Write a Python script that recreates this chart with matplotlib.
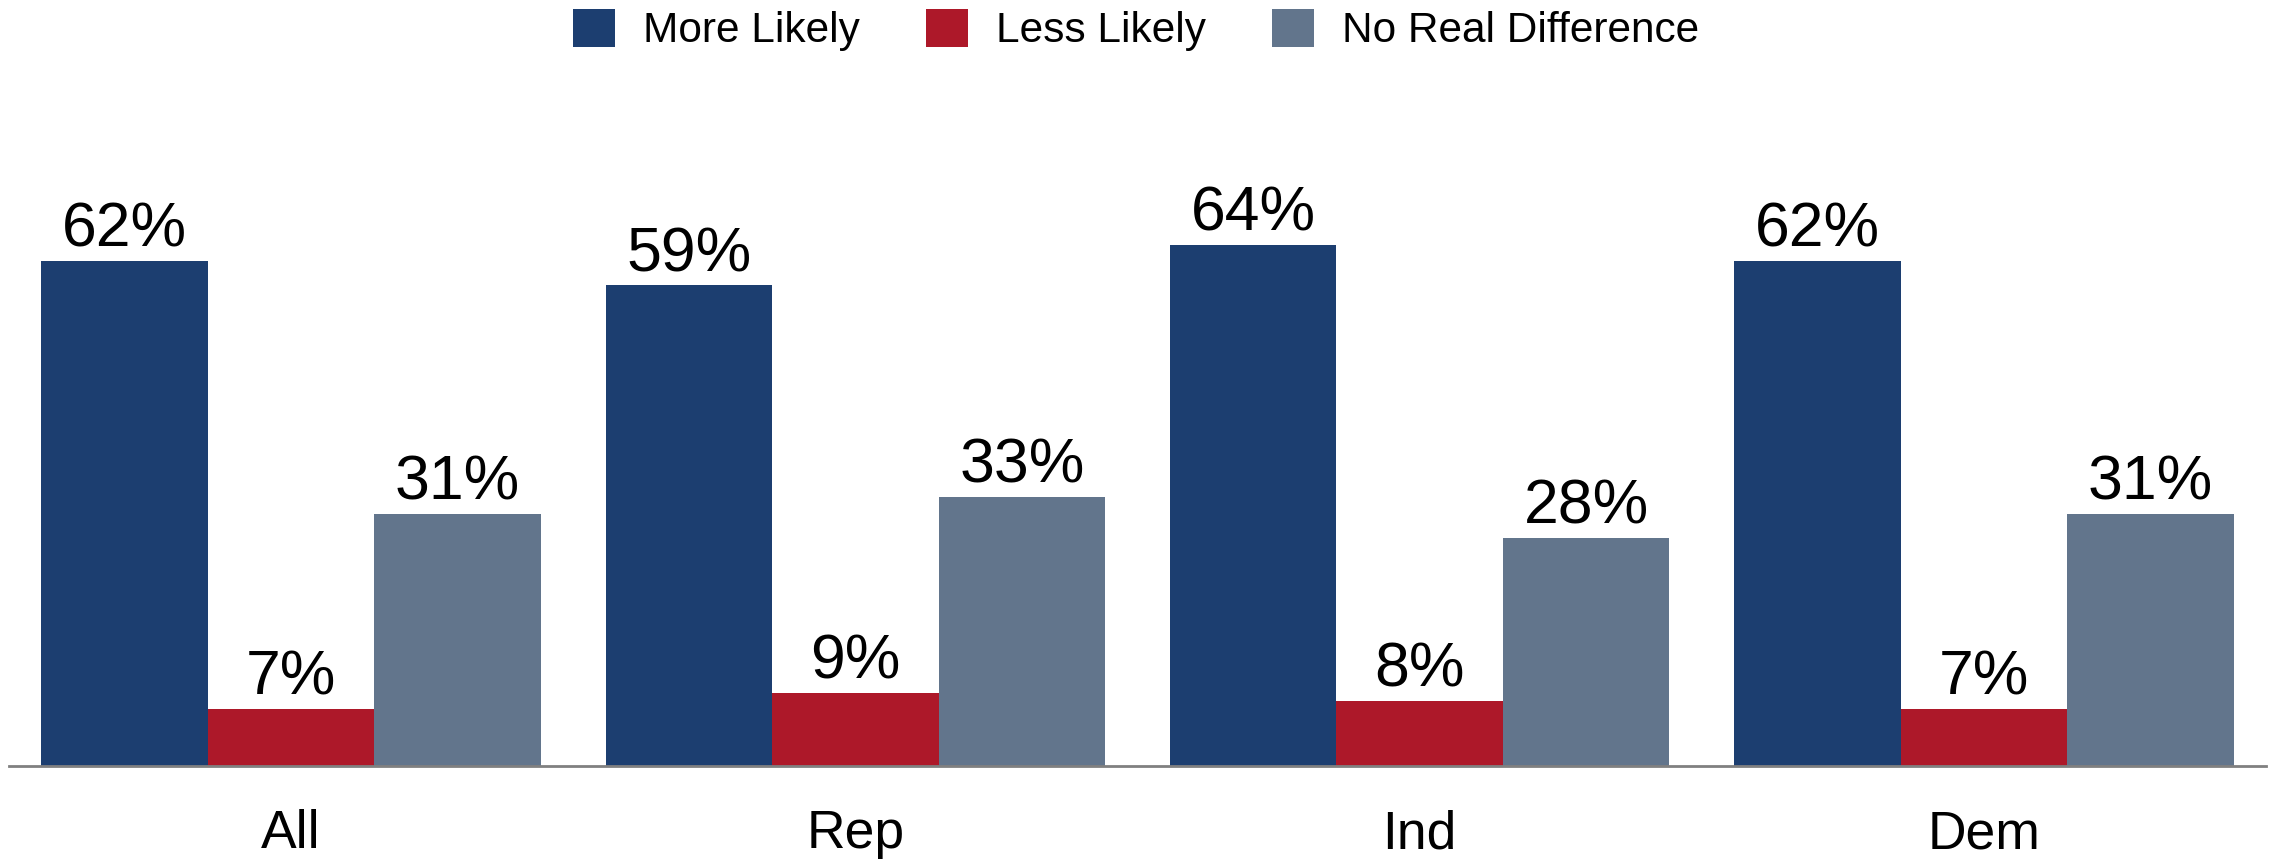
import numpy as np
import matplotlib
matplotlib.use("Agg")
import matplotlib.pyplot as plt

plt.rcParams['font.family'] = ['Liberation Sans', 'DejaVu Sans']

# data
groups = ['All', 'Rep', 'Ind', 'Dem']
series = ['More Likely', 'Less Likely', 'No Real Difference']
more_likely = [62, 59, 64, 62]
less_likely = [7, 9, 8, 7]
no_difference = [31, 33, 28, 31]

colors = ['#1c3e70', '#ad1829', '#62758c']

fig = plt.figure(figsize=(22.72, 8.6), dpi=100)
# axis line runs x 9..2266 px, baseline at y=766 px, 8.145 px per percent
ax = fig.add_axes([9 / 2272, 94 / 860, (2266 - 9) / 2272, 666 / 860])

x = np.arange(len(groups))
w = 0.295
for i, (vals, name) in enumerate(zip([more_likely, less_likely, no_difference], series)):
    bars = ax.bar(x + (i - 1) * w, vals, width=w, color=colors[i], label=name,
                  linewidth=0)
    ax.bar_label(bars, labels=['%d%%' % v for v in vals], padding=1, fontsize=45)

ax.set_xlim(-0.5, 3.5)
ax.set_ylim(0, 666 / 8.145)
ax.set_xticks(x)
ax.set_xticklabels(groups, fontsize=38.5)
ax.tick_params(axis='x', length=0, pad=31)
ax.set_yticks([])
for s in ['top', 'right', 'left']:
    ax.spines[s].set_visible(False)
ax.spines['bottom'].set_color('#808080')
ax.spines['bottom'].set_linewidth(2)

fig.legend(loc='center', bbox_to_anchor=(0.5, 1 - 30 / 860), ncol=3, frameon=False,
           fontsize=30.5, handlelength=0.99, handleheight=1.0, handletextpad=0.66,
           columnspacing=1.56, borderpad=0, borderaxespad=0)

fig.savefig('out.png', dpi=100)
